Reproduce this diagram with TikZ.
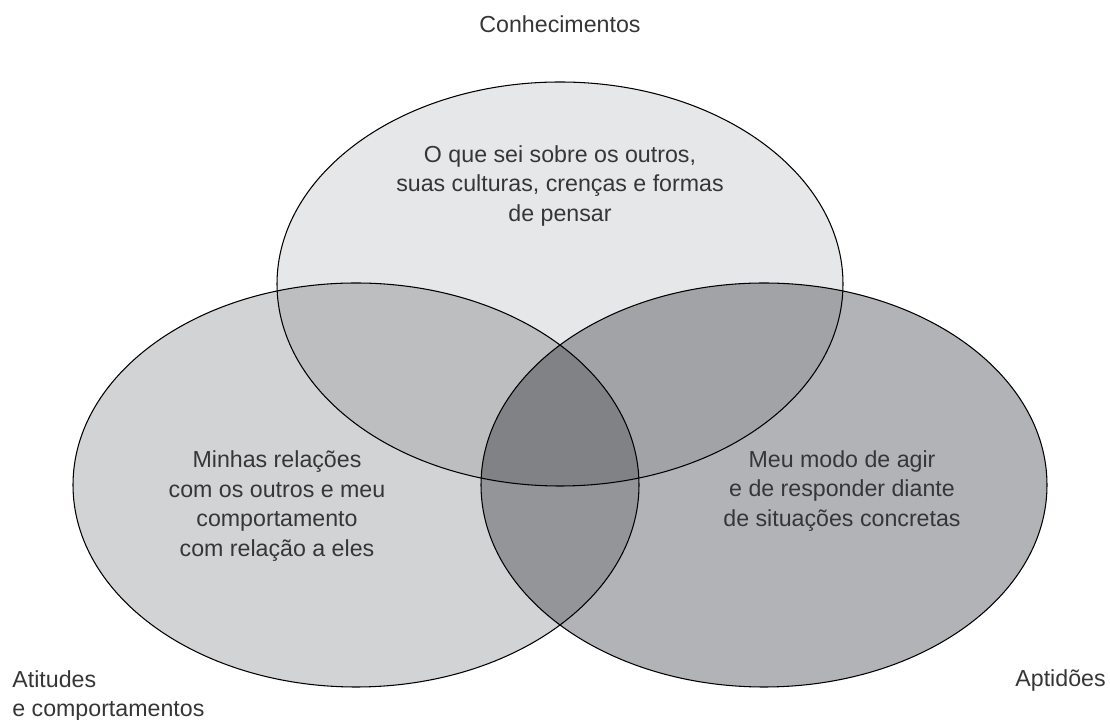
\documentclass[tikz,border=0pt]{standalone}
\usepackage{fontspec}
\setmainfont{Liberation Sans}
\usepackage{tikz}

\definecolor{ink}{HTML}{363638}
\definecolor{fillK}{HTML}{E6E7E8}
\definecolor{fillA}{HTML}{D1D3D4}
\definecolor{fillP}{HTML}{B1B3B6}
\definecolor{fillKA}{HTML}{BCBEC0}
\definecolor{fillKP}{HTML}{A1A3A6}
\definecolor{fillAP}{HTML}{939598}
\definecolor{fillKAP}{HTML}{808285}

\begin{document}
\begin{tikzpicture}	[
		x=0.02cm, y=0.02cm,
		lobe/.style={x radius=283, y radius=202},
		lbl/.style={font=\fontsize{13.2}{16.8}\selectfont, text=ink, align=center, inner sep=0pt}
	]
		\useasboundingbox (0,0) rectangle (1110,720);
		\path
			(560,436) coordinate (K)
			(356,235) coordinate (A)
			(764,235) coordinate (P)
		;

		\fill[fillK, lobe] (K) ellipse;
		\fill[fillA, lobe] (A) ellipse;
		\fill[fillP, lobe] (P) ellipse;
		\begin{scope}
			\clip[lobe] (K) ellipse;
			\fill[fillKA, lobe] (A) ellipse;
			\fill[fillKP, lobe] (P) ellipse;
		\end{scope}
		\begin{scope}
			\clip[lobe] (A) ellipse;
			\fill[fillAP, lobe] (P) ellipse;
			\clip[lobe] (K) ellipse;
			\fill[fillKAP, lobe] (P) ellipse;
		\end{scope}
		\foreach \c in {K,A,P}
			\draw[line width=0.6pt, lobe] (\c) ellipse;

		\path
			(560,687) node[lbl, anchor=base](know){Conhecimentos}
			(12,50) node[lbl, anchor=north west, align=left](attit){Atitudes\\e comportamentos}
			(1106,33) node[lbl, anchor=base east](aptid){Aptidões}
			(560,534) node[lbl](knowtxt){O que sei sobre os outros,\\suas culturas, crenças e formas\\de pensar}
			(277,214) node[lbl](attittxt){Minhas relações\\com os outros e meu\\comportamento\\com relação a eles}
			(842,229) node[lbl](aptidtxt){Meu modo de agir\\e de responder diante\\de situações concretas}
		;
	\end{tikzpicture}
\end{document}
